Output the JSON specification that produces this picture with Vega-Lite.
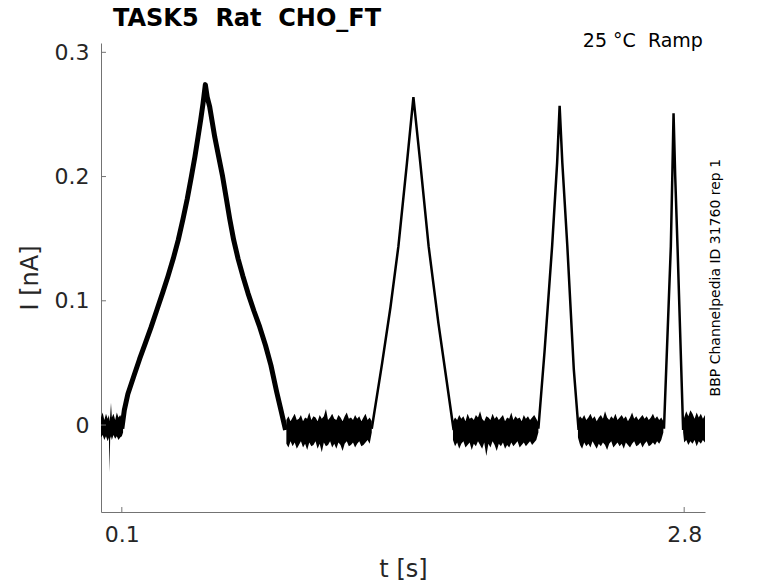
{
  "$schema": "https://vega.github.io/schema/vega-lite/v6.json",
  "width": 604,
  "height": 469,
  "autosize": "none",
  "padding": {"left": 101, "top": 43, "right": 73, "bottom": 71},
  "background": "white",
  "title": {
    "text": "TASK5\u00a0\u00a0Rat\u00a0\u00a0CHO_FT",
    "anchor": "start",
    "frame": "group",
    "dx": 12,
    "offset": 1,
    "font": "DejaVu Sans",
    "fontSize": 24,
    "fontWeight": "bold",
    "color": "#000000"
  },
  "datasets": {
    "noise": [
      {"seg": "A", "t": 0.000, "hi": 0.006, "lo": -0.010},
      {"seg": "A", "t": 0.008, "hi": 0.010, "lo": -0.008},
      {"seg": "A", "t": 0.016, "hi": 0.004, "lo": -0.012},
      {"seg": "A", "t": 0.024, "hi": 0.009, "lo": -0.009},
      {"seg": "A", "t": 0.032, "hi": 0.005, "lo": -0.013},
      {"seg": "A", "t": 0.038, "hi": 0.008, "lo": -0.010},
      {"seg": "A", "t": 0.041, "hi": 0.003, "lo": -0.038},
      {"seg": "A", "t": 0.044, "hi": 0.007, "lo": -0.011},
      {"seg": "A", "t": 0.048, "hi": 0.018, "lo": -0.009},
      {"seg": "A", "t": 0.052, "hi": 0.006, "lo": -0.012},
      {"seg": "A", "t": 0.060, "hi": 0.009, "lo": -0.008},
      {"seg": "A", "t": 0.068, "hi": 0.004, "lo": -0.011},
      {"seg": "A", "t": 0.076, "hi": 0.010, "lo": -0.009},
      {"seg": "A", "t": 0.084, "hi": 0.006, "lo": -0.012},
      {"seg": "A", "t": 0.092, "hi": 0.008, "lo": -0.010},
      {"seg": "A", "t": 0.100, "hi": 0.005, "lo": -0.009},
      {"seg": "A", "t": 0.106, "hi": 0.004, "lo": -0.006},
      {"seg": "B", "t": 0.89, "hi": 0.004, "lo": -0.015},
      {"seg": "B", "t": 0.90, "hi": 0.007, "lo": -0.018},
      {"seg": "B", "t": 0.91, "hi": 0.003, "lo": -0.013},
      {"seg": "B", "t": 0.92, "hi": 0.006, "lo": -0.017},
      {"seg": "B", "t": 0.93, "hi": 0.009, "lo": -0.014},
      {"seg": "B", "t": 0.94, "hi": 0.004, "lo": -0.019},
      {"seg": "B", "t": 0.95, "hi": 0.005, "lo": -0.016},
      {"seg": "B", "t": 0.96, "hi": 0.008, "lo": -0.013},
      {"seg": "B", "t": 0.97, "hi": 0.003, "lo": -0.018},
      {"seg": "B", "t": 0.98, "hi": 0.006, "lo": -0.015},
      {"seg": "B", "t": 0.99, "hi": 0.005, "lo": -0.020},
      {"seg": "B", "t": 1.00, "hi": 0.010, "lo": -0.014},
      {"seg": "B", "t": 1.01, "hi": 0.004, "lo": -0.017},
      {"seg": "B", "t": 1.02, "hi": 0.007, "lo": -0.016},
      {"seg": "B", "t": 1.03, "hi": 0.006, "lo": -0.013},
      {"seg": "B", "t": 1.04, "hi": 0.003, "lo": -0.019},
      {"seg": "B", "t": 1.05, "hi": 0.008, "lo": -0.015},
      {"seg": "B", "t": 1.06, "hi": 0.005, "lo": -0.022},
      {"seg": "B", "t": 1.07, "hi": 0.007, "lo": -0.014},
      {"seg": "B", "t": 1.08, "hi": 0.013, "lo": -0.017},
      {"seg": "B", "t": 1.09, "hi": 0.004, "lo": -0.016},
      {"seg": "B", "t": 1.10, "hi": 0.006, "lo": -0.013},
      {"seg": "B", "t": 1.11, "hi": 0.009, "lo": -0.018},
      {"seg": "B", "t": 1.12, "hi": 0.005, "lo": -0.015},
      {"seg": "B", "t": 1.13, "hi": 0.004, "lo": -0.019},
      {"seg": "B", "t": 1.14, "hi": 0.008, "lo": -0.014},
      {"seg": "B", "t": 1.15, "hi": 0.006, "lo": -0.016},
      {"seg": "B", "t": 1.16, "hi": 0.003, "lo": -0.021},
      {"seg": "B", "t": 1.17, "hi": 0.007, "lo": -0.015},
      {"seg": "B", "t": 1.18, "hi": 0.010, "lo": -0.013},
      {"seg": "B", "t": 1.19, "hi": 0.005, "lo": -0.017},
      {"seg": "B", "t": 1.20, "hi": 0.006, "lo": -0.016},
      {"seg": "B", "t": 1.21, "hi": 0.004, "lo": -0.014},
      {"seg": "B", "t": 1.22, "hi": 0.008, "lo": -0.018},
      {"seg": "B", "t": 1.23, "hi": 0.005, "lo": -0.015},
      {"seg": "B", "t": 1.24, "hi": 0.007, "lo": -0.013},
      {"seg": "B", "t": 1.25, "hi": 0.003, "lo": -0.017},
      {"seg": "B", "t": 1.26, "hi": 0.006, "lo": -0.016},
      {"seg": "B", "t": 1.27, "hi": 0.009, "lo": -0.014},
      {"seg": "B", "t": 1.28, "hi": 0.004, "lo": -0.012},
      {"seg": "B", "t": 1.29, "hi": 0.006, "lo": -0.015},
      {"seg": "B", "t": 1.30, "hi": 0.003, "lo": -0.006},
      {"seg": "C", "t": 1.69, "hi": 0.003, "lo": -0.012},
      {"seg": "C", "t": 1.70, "hi": 0.006, "lo": -0.017},
      {"seg": "C", "t": 1.71, "hi": 0.004, "lo": -0.014},
      {"seg": "C", "t": 1.72, "hi": 0.008, "lo": -0.019},
      {"seg": "C", "t": 1.73, "hi": 0.005, "lo": -0.015},
      {"seg": "C", "t": 1.74, "hi": 0.007, "lo": -0.013},
      {"seg": "C", "t": 1.75, "hi": 0.003, "lo": -0.018},
      {"seg": "C", "t": 1.76, "hi": 0.009, "lo": -0.016},
      {"seg": "C", "t": 1.77, "hi": 0.005, "lo": -0.014},
      {"seg": "C", "t": 1.78, "hi": 0.006, "lo": -0.020},
      {"seg": "C", "t": 1.79, "hi": 0.004, "lo": -0.015},
      {"seg": "C", "t": 1.80, "hi": 0.008, "lo": -0.017},
      {"seg": "C", "t": 1.81, "hi": 0.006, "lo": -0.013},
      {"seg": "C", "t": 1.82, "hi": 0.011, "lo": -0.016},
      {"seg": "C", "t": 1.83, "hi": 0.005, "lo": -0.019},
      {"seg": "C", "t": 1.84, "hi": 0.003, "lo": -0.014},
      {"seg": "C", "t": 1.85, "hi": 0.007, "lo": -0.025},
      {"seg": "C", "t": 1.86, "hi": 0.006, "lo": -0.015},
      {"seg": "C", "t": 1.87, "hi": 0.004, "lo": -0.018},
      {"seg": "C", "t": 1.88, "hi": 0.009, "lo": -0.013},
      {"seg": "C", "t": 1.89, "hi": 0.005, "lo": -0.016},
      {"seg": "C", "t": 1.90, "hi": 0.007, "lo": -0.021},
      {"seg": "C", "t": 1.91, "hi": 0.004, "lo": -0.015},
      {"seg": "C", "t": 1.92, "hi": 0.006, "lo": -0.017},
      {"seg": "C", "t": 1.93, "hi": 0.008, "lo": -0.014},
      {"seg": "C", "t": 1.94, "hi": 0.003, "lo": -0.019},
      {"seg": "C", "t": 1.95, "hi": 0.006, "lo": -0.016},
      {"seg": "C", "t": 1.96, "hi": 0.005, "lo": -0.018},
      {"seg": "C", "t": 1.97, "hi": 0.010, "lo": -0.014},
      {"seg": "C", "t": 1.98, "hi": 0.004, "lo": -0.017},
      {"seg": "C", "t": 1.99, "hi": 0.007, "lo": -0.015},
      {"seg": "C", "t": 2.00, "hi": 0.005, "lo": -0.013},
      {"seg": "C", "t": 2.01, "hi": 0.006, "lo": -0.018},
      {"seg": "C", "t": 2.02, "hi": 0.003, "lo": -0.016},
      {"seg": "C", "t": 2.03, "hi": 0.008, "lo": -0.014},
      {"seg": "C", "t": 2.04, "hi": 0.005, "lo": -0.017},
      {"seg": "C", "t": 2.05, "hi": 0.007, "lo": -0.015},
      {"seg": "C", "t": 2.06, "hi": 0.004, "lo": -0.013},
      {"seg": "C", "t": 2.07, "hi": 0.006, "lo": -0.016},
      {"seg": "C", "t": 2.08, "hi": 0.008, "lo": -0.014},
      {"seg": "C", "t": 2.09, "hi": 0.005, "lo": -0.012},
      {"seg": "C", "t": 2.10, "hi": 0.002, "lo": -0.006},
      {"seg": "D", "t": 2.29, "hi": 0.004, "lo": -0.010},
      {"seg": "D", "t": 2.30, "hi": 0.007, "lo": -0.016},
      {"seg": "D", "t": 2.31, "hi": 0.005, "lo": -0.019},
      {"seg": "D", "t": 2.32, "hi": 0.008, "lo": -0.014},
      {"seg": "D", "t": 2.33, "hi": 0.004, "lo": -0.017},
      {"seg": "D", "t": 2.34, "hi": 0.006, "lo": -0.015},
      {"seg": "D", "t": 2.35, "hi": 0.009, "lo": -0.018},
      {"seg": "D", "t": 2.36, "hi": 0.005, "lo": -0.013},
      {"seg": "D", "t": 2.37, "hi": 0.007, "lo": -0.016},
      {"seg": "D", "t": 2.38, "hi": 0.003, "lo": -0.019},
      {"seg": "D", "t": 2.39, "hi": 0.006, "lo": -0.015},
      {"seg": "D", "t": 2.40, "hi": 0.008, "lo": -0.017},
      {"seg": "D", "t": 2.41, "hi": 0.005, "lo": -0.014},
      {"seg": "D", "t": 2.42, "hi": 0.011, "lo": -0.016},
      {"seg": "D", "t": 2.43, "hi": 0.006, "lo": -0.020},
      {"seg": "D", "t": 2.44, "hi": 0.004, "lo": -0.015},
      {"seg": "D", "t": 2.45, "hi": 0.007, "lo": -0.013},
      {"seg": "D", "t": 2.46, "hi": 0.005, "lo": -0.018},
      {"seg": "D", "t": 2.47, "hi": 0.009, "lo": -0.016},
      {"seg": "D", "t": 2.48, "hi": 0.004, "lo": -0.014},
      {"seg": "D", "t": 2.49, "hi": 0.006, "lo": -0.017},
      {"seg": "D", "t": 2.50, "hi": 0.008, "lo": -0.015},
      {"seg": "D", "t": 2.51, "hi": 0.005, "lo": -0.019},
      {"seg": "D", "t": 2.52, "hi": 0.007, "lo": -0.014},
      {"seg": "D", "t": 2.53, "hi": 0.003, "lo": -0.016},
      {"seg": "D", "t": 2.54, "hi": 0.006, "lo": -0.018},
      {"seg": "D", "t": 2.55, "hi": 0.010, "lo": -0.015},
      {"seg": "D", "t": 2.56, "hi": 0.005, "lo": -0.013},
      {"seg": "D", "t": 2.57, "hi": 0.007, "lo": -0.017},
      {"seg": "D", "t": 2.58, "hi": 0.004, "lo": -0.016},
      {"seg": "D", "t": 2.59, "hi": 0.006, "lo": -0.014},
      {"seg": "D", "t": 2.60, "hi": 0.008, "lo": -0.018},
      {"seg": "D", "t": 2.61, "hi": 0.005, "lo": -0.015},
      {"seg": "D", "t": 2.62, "hi": 0.007, "lo": -0.013},
      {"seg": "D", "t": 2.63, "hi": 0.004, "lo": -0.017},
      {"seg": "D", "t": 2.64, "hi": 0.006, "lo": -0.016},
      {"seg": "D", "t": 2.65, "hi": 0.009, "lo": -0.014},
      {"seg": "D", "t": 2.66, "hi": 0.005, "lo": -0.016},
      {"seg": "D", "t": 2.67, "hi": 0.007, "lo": -0.013},
      {"seg": "D", "t": 2.68, "hi": 0.004, "lo": -0.015},
      {"seg": "D", "t": 2.69, "hi": 0.006, "lo": -0.012},
      {"seg": "D", "t": 2.70, "hi": 0.003, "lo": -0.006},
      {"seg": "E", "t": 2.795, "hi": 0.002, "lo": -0.006},
      {"seg": "E", "t": 2.80, "hi": 0.006, "lo": -0.014},
      {"seg": "E", "t": 2.81, "hi": 0.011, "lo": -0.012},
      {"seg": "E", "t": 2.82, "hi": 0.007, "lo": -0.016},
      {"seg": "E", "t": 2.83, "hi": 0.012, "lo": -0.013},
      {"seg": "E", "t": 2.84, "hi": 0.009, "lo": -0.015},
      {"seg": "E", "t": 2.85, "hi": 0.005, "lo": -0.012},
      {"seg": "E", "t": 2.86, "hi": 0.010, "lo": -0.017},
      {"seg": "E", "t": 2.87, "hi": 0.006, "lo": -0.013},
      {"seg": "E", "t": 2.88, "hi": 0.009, "lo": -0.015},
      {"seg": "E", "t": 2.89, "hi": 0.005, "lo": -0.012},
      {"seg": "E", "t": 2.90, "hi": 0.008, "lo": -0.014}
    ],
    "ramp1": [
      {"t": 0.100, "I": -0.003},
      {"t": 0.112, "I": 0.012},
      {"t": 0.129, "I": 0.025},
      {"t": 0.157, "I": 0.039},
      {"t": 0.185, "I": 0.053},
      {"t": 0.213, "I": 0.066},
      {"t": 0.241, "I": 0.079},
      {"t": 0.269, "I": 0.093},
      {"t": 0.297, "I": 0.107},
      {"t": 0.322, "I": 0.120},
      {"t": 0.347, "I": 0.134},
      {"t": 0.371, "I": 0.149},
      {"t": 0.394, "I": 0.166},
      {"t": 0.414, "I": 0.182},
      {"t": 0.434, "I": 0.200},
      {"t": 0.451, "I": 0.216},
      {"t": 0.466, "I": 0.232},
      {"t": 0.479, "I": 0.246},
      {"t": 0.490, "I": 0.259},
      {"t": 0.501, "I": 0.274},
      {"t": 0.510, "I": 0.264},
      {"t": 0.522, "I": 0.256},
      {"t": 0.546, "I": 0.232},
      {"t": 0.565, "I": 0.216},
      {"t": 0.584, "I": 0.200},
      {"t": 0.601, "I": 0.183},
      {"t": 0.618, "I": 0.166},
      {"t": 0.637, "I": 0.149},
      {"t": 0.658, "I": 0.134},
      {"t": 0.681, "I": 0.120},
      {"t": 0.706, "I": 0.106},
      {"t": 0.734, "I": 0.092},
      {"t": 0.762, "I": 0.079},
      {"t": 0.790, "I": 0.064},
      {"t": 0.816, "I": 0.048},
      {"t": 0.843, "I": 0.027},
      {"t": 0.864, "I": 0.012},
      {"t": 0.886, "I": -0.004}
    ],
    "ramps": [
      {"ramp": "2", "t": 1.300, "I": -0.003},
      {"ramp": "2", "t": 1.350, "I": 0.050},
      {"ramp": "2", "t": 1.390, "I": 0.095},
      {"ramp": "2", "t": 1.428, "I": 0.144},
      {"ramp": "2", "t": 1.469, "I": 0.211},
      {"ramp": "2", "t": 1.500, "I": 0.264},
      {"ramp": "2", "t": 1.533, "I": 0.211},
      {"ramp": "2", "t": 1.573, "I": 0.144},
      {"ramp": "2", "t": 1.620, "I": 0.082},
      {"ramp": "2", "t": 1.660, "I": 0.035},
      {"ramp": "2", "t": 1.693, "I": -0.004},
      {"ramp": "3", "t": 2.100, "I": -0.003},
      {"ramp": "3", "t": 2.130, "I": 0.060},
      {"ramp": "3", "t": 2.166, "I": 0.144},
      {"ramp": "3", "t": 2.190, "I": 0.211},
      {"ramp": "3", "t": 2.202, "I": 0.257},
      {"ramp": "3", "t": 2.215, "I": 0.211},
      {"ramp": "3", "t": 2.239, "I": 0.144},
      {"ramp": "3", "t": 2.270, "I": 0.045},
      {"ramp": "3", "t": 2.293, "I": -0.004},
      {"ramp": "4", "t": 2.703, "I": -0.003},
      {"ramp": "4", "t": 2.736, "I": 0.144},
      {"ramp": "4", "t": 2.743, "I": 0.200},
      {"ramp": "4", "t": 2.749, "I": 0.251},
      {"ramp": "4", "t": 2.757, "I": 0.200},
      {"ramp": "4", "t": 2.768, "I": 0.144},
      {"ramp": "4", "t": 2.795, "I": -0.004}
    ],
    "xticks": [{"v": 0.1}, {"v": 2.8}],
    "yticks": [{"v": 0}, {"v": 0.1}, {"v": 0.2}, {"v": 0.3}],
    "notes": [
      {"t": 2.89, "I": 0.304, "label": "25 °C\u00a0\u00a0Ramp", "kind": "temp"},
      {"t": 2.953, "I": 0.1186, "label": "BBP Channelpedia ID 31760 rep 1", "kind": "source"}
    ]
  },
  "layer": [
    {
      "data": {"name": "noise"},
      "mark": {"type": "area", "color": "#000000", "opacity": 1, "interpolate": "linear"},
      "encoding": {
        "x": {
          "field": "t",
          "type": "quantitative",
          "scale": {"domain": [0, 2.9], "nice": false, "zero": false},
          "axis": {
            "title": "t [s]",
            "values": [0.1, 2.8],
            "format": ".1f",
            "labelPadding": 12,
            "titlePadding": 12,
            "labelFlush": false
          }
        },
        "y": {
          "field": "hi",
          "type": "quantitative",
          "scale": {"domain": [-0.07, 0.3075], "nice": false, "zero": false},
          "axis": {
            "title": "I [nA]",
            "values": [0, 0.1, 0.2, 0.3],
            "format": ".1~f",
            "labelPadding": 12,
            "titlePadding": 12
          }
        },
        "y2": {"field": "lo"},
        "detail": {"field": "seg", "type": "nominal"}
      }
    },
    {
      "data": {"name": "xticks"},
      "mark": {"type": "rule", "color": "#737373", "strokeWidth": 1},
      "encoding": {
        "x": {"field": "v", "type": "quantitative"},
        "y": {"datum": -0.07},
        "y2": {"datum": -0.066}
      }
    },
    {
      "data": {"name": "yticks"},
      "mark": {"type": "rule", "color": "#737373", "strokeWidth": 1},
      "encoding": {
        "y": {"field": "v", "type": "quantitative"},
        "x": {"datum": 0},
        "x2": {"datum": 0.024}
      }
    },
    {
      "data": {"name": "ramp1"},
      "mark": {"type": "line", "color": "#000000", "strokeWidth": 5, "strokeJoin": "round"},
      "encoding": {
        "x": {"field": "t", "type": "quantitative"},
        "y": {"field": "I", "type": "quantitative"}
      }
    },
    {
      "data": {"name": "ramps"},
      "mark": {"type": "line", "color": "#000000", "strokeWidth": 2.5, "strokeJoin": "miter"},
      "encoding": {
        "x": {"field": "t", "type": "quantitative"},
        "y": {"field": "I", "type": "quantitative"},
        "detail": {"field": "ramp", "type": "nominal"}
      }
    },
    {
      "data": {"name": "notes"},
      "transform": [{"filter": "datum.kind == 'temp'"}],
      "mark": {"type": "text", "font": "DejaVu Sans", "fontSize": 19, "align": "right", "baseline": "alphabetic", "color": "#000000"},
      "encoding": {
        "x": {"field": "t", "type": "quantitative"},
        "y": {"field": "I", "type": "quantitative"},
        "text": {"field": "label"}
      }
    },
    {
      "data": {"name": "notes"},
      "transform": [{"filter": "datum.kind == 'source'"}],
      "mark": {"type": "text", "font": "DejaVu Sans", "fontSize": 14, "align": "center", "baseline": "middle", "angle": 270, "color": "#000000"},
      "encoding": {
        "x": {"field": "t", "type": "quantitative"},
        "y": {"field": "I", "type": "quantitative"},
        "text": {"field": "label"}
      }
    }
  ],
  "config": {
    "view": {"stroke": null},
    "axis": {
      "grid": false,
      "domainColor": "#737373",
      "tickSize": 0,
      "labelColor": "#262626",
      "titleColor": "#262626",
      "labelFont": "DejaVu Sans",
      "titleFont": "DejaVu Sans",
      "labelFontSize": 22,
      "titleFontSize": 24,
      "titleFontWeight": "normal"
    }
  }
}
